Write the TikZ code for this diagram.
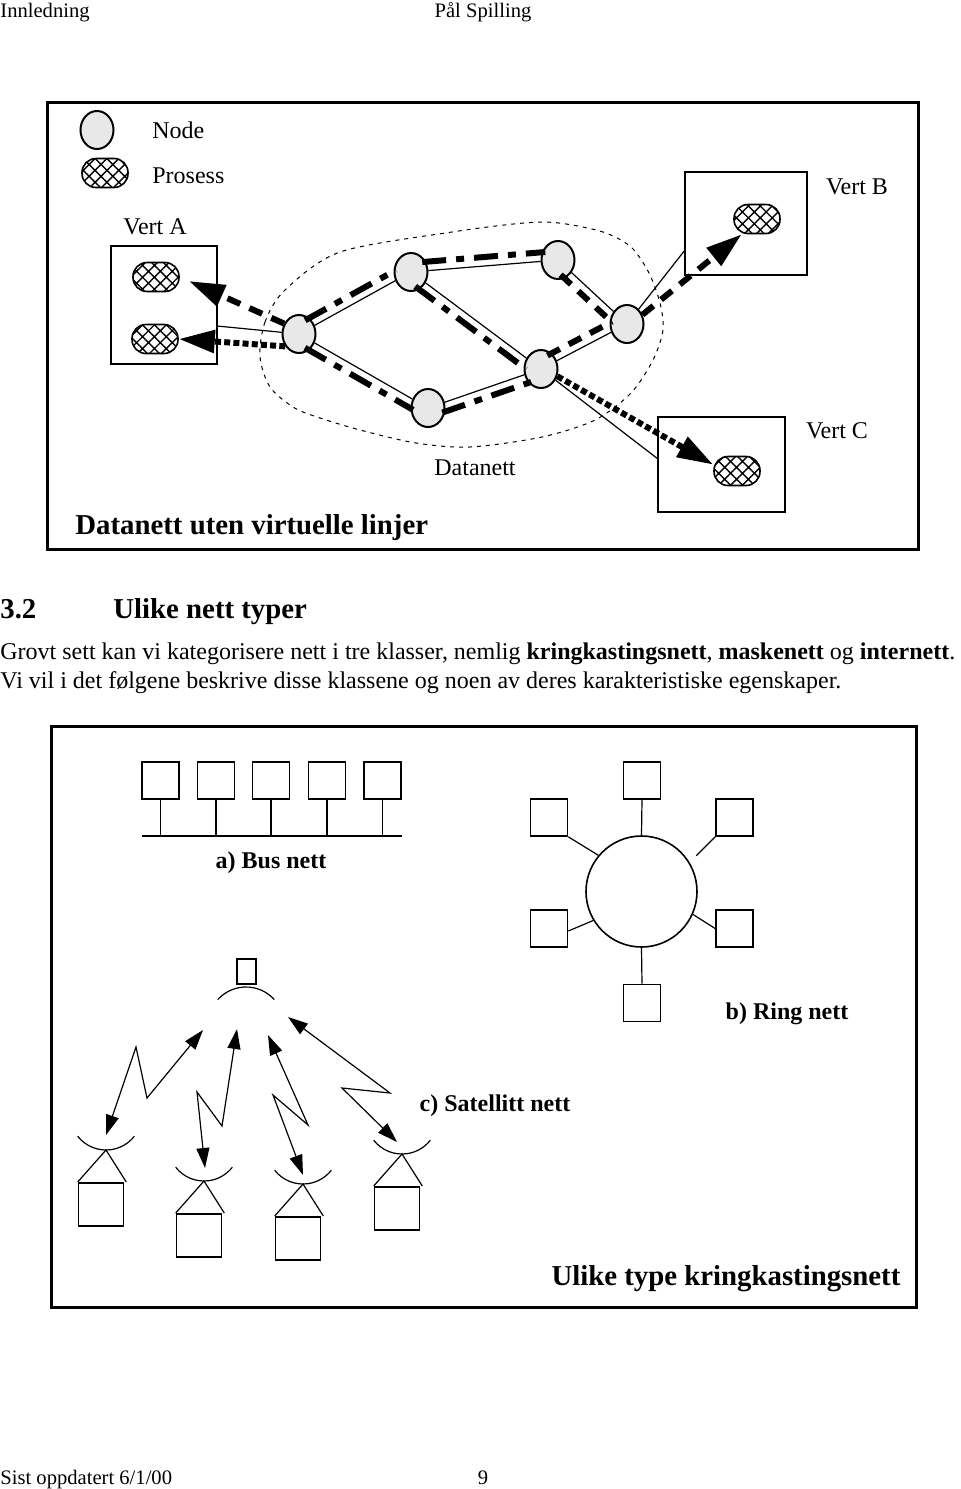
\documentclass[tikz,border=0pt]{standalone}
\usepackage{fontspec}
\setmainfont{Liberation Serif}
\usetikzlibrary{arrows.meta,calc,patterns.meta,shapes.geometric}

% offset virtual link between two net nodes
\newcommand\vlink[4]{%
  \draw[#1] ($(#2)!6pt!(#3)!#4!90:(#3)$) -- ($(#3)!6pt!(#2)!#4!-90:(#2)$);
}

\begin{document}
\begin{tikzpicture}[
    x=0.5pt, y=-0.5pt,
    netnode/.style={
        draw,
        ellipse,
        line width=1pt,
        fill=gray!18,
        inner sep=0pt,
        minimum width=16.5pt,
        minimum height=19pt,
    },
    proc/.style={
        draw,
        rectangle,
        rounded corners=7pt,
        line width=0.8pt,
        pattern={Hatch[angle=45,distance=4.2pt,line width=0.7pt]},
        inner sep=0pt,
        minimum width=23pt,
        minimum height=14.5pt,
    },
    vert/.style={draw, line width=0.8pt, inner sep=0pt},
    wire/.style={line width=0.6pt},
    frame/.style={line width=1.5pt},
    cloud/.style={line width=0.5pt, dash pattern=on 2pt off 2.5pt},
    vthick/.style={line width=3pt},
    vdashdot/.style={vthick, dash pattern=on 12pt off 5pt on 4pt off 5pt},
    vdash/.style={vthick, dash pattern=on 7pt off 5pt},
    vdots/.style={vthick, dash pattern=on 3pt off 1.6pt},
    bigtip/.style={-{Triangle[length=18pt,width=11pt]}},
    sqbox/.style={draw, line width=0.8pt, inner sep=0pt, minimum size=18.5pt},
    housebox/.style={draw, line width=0.8pt, inner sep=0pt,
        minimum width=22.5pt, minimum height=21.5pt},
    sig/.style={wire, {Triangle[length=10pt,width=6.5pt]}-{Triangle[length=10pt,width=6.5pt]}},
    lbl/.style={font=\fontsize{12}{14}\selectfont, inner sep=0pt},
    blbl/.style={font=\fontsize{12}{14}\selectfont\bfseries, inner sep=0pt},
    ttl/.style={font=\fontsize{14.4}{17}\selectfont\bfseries, inner sep=0pt},
    hdr/.style={font=\fontsize{10.3}{12}\selectfont, inner sep=0pt},
]
\useasboundingbox (0,0) rectangle (960,1489);

% page head and foot
\node[hdr, anchor=base west] (hd-l) at (0,17) {Innledning};
\node[hdr, anchor=base] (hd-r) at (483,17) {Pål Spilling};
\node[hdr, anchor=base west] (ft-l) at (0,1484) {Sist oppdatert 6/1/00};
\node[hdr, anchor=base] (ft-r) at (483,1484) {9};

%% upper figure
\draw[frame] (47,102) rectangle (918,549);

\node[netnode] (leg-node) at (97,130) {};
\node[lbl, anchor=base west] (leg-node-t) at (152,138) {Node};
\node[proc] (leg-proc) at (105,173) {};
\node[lbl, anchor=base west] (leg-proc-t) at (152,183) {Prosess};

% hosts
\node[vert, minimum width=53pt, minimum height=59pt] (VA) at (164,305) {};
\node[vert, minimum width=61pt, minimum height=51.5pt] (VB) at (746,223.5) {};
\node[vert, minimum width=63.5pt, minimum height=47.5pt] (VC) at (721.5,464.5) {};
\node[lbl, anchor=base] (VA-t) at (155,234) {Vert A};
\node[lbl, anchor=base] (VB-t) at (857,194) {Vert B};
\node[lbl, anchor=base] (VC-t) at (837,438) {Vert C};

\node[proc] (PA1) at (156,277) {};
\node[proc] (PA2) at (155,339) {};
\node[proc] (PB) at (757,219) {};
\node[proc] (PC) at (737,471) {};

\coordinate (va-port) at (217,326);
\coordinate (vb-port) at (685,250);
\coordinate (vc-port) at (658,459);

% the net
\draw[cloud] plot[smooth cycle] coordinates {(260,357) (265,322) (285,290)
  (340,252) (452,232) (524,223) (559,223) (603,232) (631,247) (649,273)
  (660,303) (663,330) (653,360) (631,393) (595,420) (542,437) (470,447)
  (416,443) (360,430) (317,417) (293,407) (270,387)};
\node[lbl, anchor=base] (net-t) at (475,475) {Datanett};

\node[netnode] (N1) at (299,334) {};
\node[netnode] (N2) at (411,272) {};
\node[netnode] (N3) at (558,260) {};
\node[netnode] (N4) at (627,324) {};
\node[netnode] (N5) at (428,408) {};
\node[netnode] (N6) at (541,369) {};

\draw[wire] (va-port) -- (N1) -- (N2) -- (N3) -- (N4) -- (vb-port);
\draw[wire] (N1) -- (N5) -- (N6) -- (N4);
\draw[wire] (N2) -- (N6) -- (vc-port);

% virtual paths
\vlink{vdashdot}{N1}{N2}{4.5pt}
\vlink{vdashdot}{N2}{N3}{4.5pt}
\vlink{vdash}{N3}{N4}{-4.5pt}
\vlink{vdashdot}{N1}{N5}{-4.5pt}
\vlink{vdashdot}{N5}{N6}{-4.5pt}
\vlink{vdashdot}{N2}{N6}{-4.5pt}
\vlink{vdash}{N6}{N4}{4.5pt}

\draw[vdash, bigtip, shorten >=5pt] (N1.145) -- (PA1.east);
\draw[vdots, bigtip] (N1.222) -- (PA2.east);
\draw[vdash, bigtip] (N4.31) -- (PB.225);
\draw[vdots, bigtip] (N6.-24) -- (PC.165);

\node[ttl, anchor=base west] (fig1-t) at (75,534) {Datanett uten virtuelle linjer};

%% section text
\node[ttl, anchor=base west] (sec-no) at (0,618) {3.2};
\node[ttl, anchor=base west] (sec-t) at (113,618) {Ulike nett typer};
\node[lbl, anchor=base west] (par-1) at (0,659) {Grovt sett kan vi kategorisere nett i tre klasser, nemlig \textbf{kringkastingsnett}, \textbf{maskenett} og \textbf{internett}.};
\node[lbl, anchor=base west] (par-2) at (0,688) {Vi vil i det følgene beskrive disse klassene og noen av deres karakteristiske egenskaper.};

%% lower figure
\draw[frame] (51,726) rectangle (916,1307);

% bus
\coordinate (bus-l) at (142,836);
\coordinate (bus-r) at (402,836);
\draw[wire] (bus-l) -- (bus-r);
\foreach \i/\x in {1/160.5,2/216,3/271,4/327,5/382.5} {
  \node[sqbox] (bus\i) at (\x,780.5) {};
  \draw[wire] (bus\i.south) -- (bus\i.south |- bus-l);
}
\node[blbl, anchor=base] (bus-t) at (271,868) {a) Bus nett};

% ring
\node[draw, circle, line width=0.8pt, inner sep=0pt, minimum size=55.5pt] (ring) at (641.5,891.5) {};
\node[sqbox] (rT) at (642,780.5) {};
\node[sqbox] (rUL) at (549,817.5) {};
\node[sqbox] (rUR) at (734.5,817.5) {};
\node[sqbox] (rLL) at (549,928.5) {};
\node[sqbox] (rLR) at (734.5,928.5) {};
\node[sqbox] (rB) at (642,1003) {};
\draw[wire] (rT.south) -- (ring.north);
\draw[wire] (rUL.south east) -- (ring.140);
\draw[wire] (rUR.south west) -- ++(-19,19);
\draw[wire] ($(rLL.east)+(0,2.5)$) -- (ring.211);
\draw[wire] (ring.-24) -- (rLR.west);
\draw[wire] (ring.south) -- (rB.north);
\node[blbl, anchor=base] (ring-t) at (787,1019) {b) Ring nett};

% satellite
\node[draw, line width=0.8pt, inner sep=0pt, minimum width=9.5pt, minimum height=12.5pt] (sat) at (246.5,971.5) {};
\coordinate (sat-dish) at (246,987);
\draw[wire] (sat-dish) ++(-90:19pt) ++(138:19pt) arc[start angle=138,end angle=42,radius=19pt];

\foreach \n/\x/\y in {1/106/1150, 2/204/1181, 3/303/1184, 4/402/1154} {
  \coordinate (dish\n) at (\x,\y);
  \draw[wire] (dish\n) ++(90:18pt) ++(218:18pt) arc[start angle=218,end angle=322,radius=18pt];
  \node[housebox, anchor=north] (house\n) at ($(dish\n)+(-5,32)$) {};
  \draw[wire] (house\n.north west) -- (dish\n) -- ($(house\n.north east)+(2,0)$);
}

\coordinate (down1) at (106,1135);
\coordinate (up1) at (203,1030);
\coordinate (down2) at (205,1168);
\coordinate (up2) at (237,1029);
\coordinate (up3) at (268,1035);
\coordinate (down3) at (303,1175);
\coordinate (up4) at (288,1017);
\coordinate (down4) at (397,1142);
\draw[sig] (down1) -- (136,1047) -- (147,1098) -- (up1);
\draw[sig] (down2) -- (197,1092) -- (222,1126) -- (up2);
\draw[sig] (up3) -- (308,1125) -- (273,1095) -- (down3);
\draw[sig] (up4) -- (390,1093) -- (342,1088) -- (down4);
\node[blbl, anchor=base] (sat-t) at (495,1111) {c) Satellitt nett};

\node[ttl, anchor=base] (fig2-t) at (726,1285) {Ulike type kringkastingsnett};

\end{tikzpicture}
\end{document}
